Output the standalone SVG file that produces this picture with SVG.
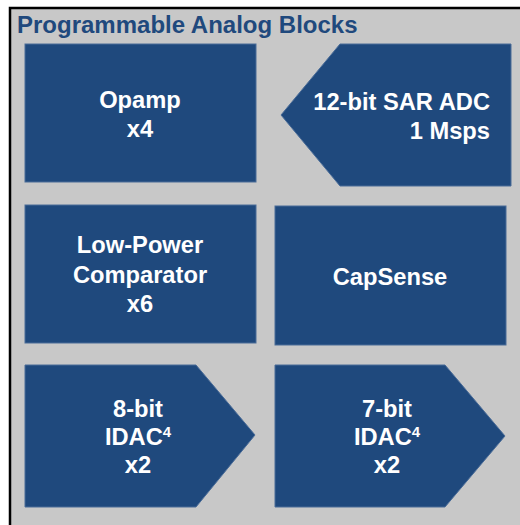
<svg xmlns="http://www.w3.org/2000/svg" width="520" height="525" viewBox="0 0 520 525">
  <style>
    .blk { fill: #1F497D; stroke: #4A6C98; stroke-width: 1; }
    .lbl { font-family: "Liberation Sans", Arial, sans-serif; font-weight: bold; font-size: 23.7px; fill: #FFFFFF; text-anchor: middle; }
    .sup { font-size: 15px; }
    .title { font-family: "Liberation Sans", Arial, sans-serif; font-weight: bold; font-size: 24px; fill: #1F497D; }
  </style>
  <rect x="0" y="0" width="520" height="525" fill="#FFFFFF"/>
  <!-- outer panel, runs past the right and bottom edges -->
  <rect x="10" y="8" width="530" height="540" fill="#C8C8C8" stroke="#000000" stroke-width="2.5"/>
  <text class="title" x="17" y="33">Programmable Analog Blocks</text>

  <g id="opamp">
    <rect class="blk" x="25" y="44" width="231" height="138"/>
    <text class="lbl" x="140" y="108">Opamp</text>
    <text class="lbl" x="140" y="137">x4</text>
  </g>

  <g id="sar-adc">
    <polygon class="blk" points="340,44 511,44 511,186 340,186 281,115"/>
    <text class="lbl" x="490" y="110" style="text-anchor:end">12-bit SAR ADC</text>
    <text class="lbl" x="490" y="139" style="text-anchor:end">1 Msps</text>
  </g>

  <g id="comparator">
    <rect class="blk" x="25" y="205" width="231" height="138"/>
    <text class="lbl" x="140" y="253">Low-Power</text>
    <text class="lbl" x="140" y="283">Comparator</text>
    <text class="lbl" x="140" y="312">x6</text>
  </g>

  <g id="capsense">
    <rect class="blk" x="275" y="206" width="231" height="139"/>
    <text class="lbl" x="390" y="285">CapSense</text>
  </g>

  <g id="idac8">
    <polygon class="blk" points="25,365 196,365 255,435 196,507 25,507"/>
    <text class="lbl" x="138" y="417">8-bit</text>
    <text class="lbl" x="138" y="445">IDAC<tspan class="sup" dy="-8">4</tspan></text>
    <text class="lbl" x="138" y="473">x2</text>
  </g>

  <g id="idac7">
    <polygon class="blk" points="275,365 445,365 505,436 445,507 275,507"/>
    <text class="lbl" x="387" y="417">7-bit</text>
    <text class="lbl" x="387" y="445">IDAC<tspan class="sup" dy="-8">4</tspan></text>
    <text class="lbl" x="387" y="473">x2</text>
  </g>

  <g id="connectors"/>
</svg>
